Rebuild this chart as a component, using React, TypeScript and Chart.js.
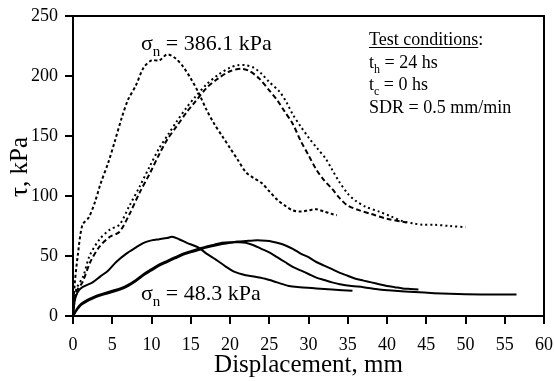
import React, { useEffect, useRef } from "react";
import { Chart, registerables } from "chart.js";

Chart.register(...registerables);

const xTicks = [0, 5, 10, 15, 20, 25, 30, 35, 40, 45, 50, 55, 60];
const yTicks = [0, 50, 100, 150, 200, 250];

// sigma_n = 386.1 kPa, test 1 (early peak)
const highA: [number, number][] = [
  [0, 0], [0.2, 25], [0.6, 50], [1.2, 76], [2, 82], [2.8, 95], [3.5, 110], [4.5, 128], [5.3, 145],
  [6.2, 165], [7, 180], [8, 192], [9, 207], [10, 213], [11, 213], [12, 218], [13, 215], [14, 208],
  [15, 198], [16, 186], [17, 172], [18, 160], [19, 150], [20, 140], [21, 130], [22, 120], [23, 115],
  [24, 111], [25, 104], [26, 97], [27, 92], [28, 88], [29, 87], [30, 88], [31, 89], [32, 87],
  [33, 85], [33.6, 84],
];
// sigma_n = 386.1 kPa, test 2 (dashed, ends ~42.5 mm)
const highB: [number, number][] = [
  [0, 0], [0.4, 20], [1.2, 28], [2.2, 45], [3.4, 58], [4.7, 66], [5.9, 70], [7.2, 85], [8.5, 103],
  [9.8, 119], [11, 135], [12, 147], [13.2, 158], [14.5, 170], [15.5, 178], [17, 190], [18.5, 198],
  [20, 204], [21.5, 206], [22.5, 204], [23.7, 198], [25, 188], [26, 180], [27, 170], [28, 160],
  [29, 146], [30, 134], [31, 122], [32, 113], [33, 106], [34, 98], [35, 92], [36.5, 88], [38, 85],
  [40, 81], [42.5, 78],
];
// sigma_n = 386.1 kPa, test 3 (dotted, ends 50 mm)
const highC: [number, number][] = [
  [0, 0], [0.4, 22], [1.3, 33], [2.1, 50], [3.4, 64], [4.7, 72], [5.9, 76], [7.2, 92], [8.5, 108],
  [9.8, 125], [11, 140], [12.2, 152], [13.2, 162], [14.5, 174], [15.5, 182], [17, 193], [18.5, 201],
  [20, 207], [21, 209], [22, 209], [23, 207], [24, 202], [25, 195], [26.3, 187], [27.2, 178],
  [28, 168], [29, 158], [30.1, 148], [31.2, 139], [32.2, 131], [33, 122], [33.9, 112], [35, 102],
  [36, 96], [37.3, 91], [39, 87], [40.5, 83], [42, 79], [43.5, 77], [44.5, 76], [46, 76], [48, 75],
  [50, 74],
];
// sigma_n = 48.3 kPa, test 1 (early peak)
const lowD: [number, number][] = [
  [0, 0], [0.2, 12], [0.6, 20], [1.2, 24], [2.5, 28], [3.5, 33], [4.5, 38], [5.5, 45], [6.8, 52],
  [8, 57], [9, 61], [10, 63], [11, 64], [12, 65], [12.6, 66], [13.5, 64], [14.5, 61], [16, 57],
  [17, 52], [18.2, 47], [19.5, 41], [20.5, 37], [22, 34], [23, 33], [24.5, 31], [26, 28],
  [27.5, 25], [29, 24], [31, 23], [33, 22], [35.6, 21],
];
// sigma_n = 48.3 kPa, test 2 (ends 56.5 mm)
const lowE: [number, number][] = [
  [0, 0], [0.5, 6], [1, 10], [2, 14], [3, 17], [4, 19], [5, 21], [6, 23], [7, 26], [8, 30], [9, 35],
  [10, 39], [11, 43], [12, 46], [13, 49], [14, 52], [15, 54], [16, 56], [17, 58], [18, 59.5],
  [19, 61], [20, 61.5], [21, 61.5], [22, 61], [23, 59], [24, 56], [25, 53], [26, 49], [27, 45],
  [28, 41], [29, 38], [30, 35], [31, 32], [32, 30], [33, 28], [34, 26.5], [35.5, 25], [37, 24],
  [39, 22], [41, 21], [43.5, 20], [46, 19], [48, 18.5], [52, 18], [56.5, 18],
];
// sigma_n = 48.3 kPa, test 3 (ends 44 mm)
const lowF: [number, number][] = [
  [0, 0], [0.5, 5], [1, 9], [2, 13], [3, 16], [4, 18], [5, 20], [6, 22], [7, 25], [8, 29], [9, 34],
  [10, 38], [11, 42], [12, 45], [13, 48], [14, 51], [15, 53], [16, 55], [17, 57], [18, 58.5],
  [19, 60], [20, 61], [21, 62], [22, 62.5], [23, 63], [24, 63], [25, 62.5], [26, 61], [27, 59],
  [28, 56], [29, 52], [30, 49], [31, 45], [32, 42], [33, 39], [34, 36], [35, 33.5], [36, 31],
  [37, 29.5], [38, 28], [39, 26.5], [40, 25], [41, 24], [42, 23], [43, 22.5], [44, 22],
];

const FONT = "'Liberation Serif', 'Times New Roman', serif";

function toXY(arr: [number, number][]) {
  return arr.map(([x, y]) => ({ x, y }));
}

function drawSub(
  ctx: CanvasRenderingContext2D,
  x: number,
  y: number,
  base: string,
  sub: string,
  rest: string,
  size: number
) {
  ctx.font = `${size}px ${FONT}`;
  ctx.fillText(base, x, y);
  let cx = x + ctx.measureText(base).width;
  const ss = Math.round(size * 0.68);
  ctx.font = `${ss}px ${FONT}`;
  ctx.fillText(sub, cx, y + size * 0.25);
  cx += ctx.measureText(sub).width;
  ctx.font = `${size}px ${FONT}`;
  ctx.fillText(rest, cx, y);
}

const annotPlugin = {
  id: "annot",
  afterDraw(chart: any) {
    const ctx: CanvasRenderingContext2D = chart.ctx;
    const a = chart.chartArea;
    ctx.save();
    ctx.strokeStyle = "#000";
    ctx.lineWidth = 2;
    ctx.strokeRect(a.left, a.top, a.right - a.left, a.bottom - a.top);

    ctx.fillStyle = "#000";
    ctx.textAlign = "left";
    ctx.textBaseline = "alphabetic";
    drawSub(ctx, 141, 50, "σ", "n", " = 386.1 kPa", 22);
    drawSub(ctx, 141, 300, "σ", "n", " = 48.3 kPa", 22);

    const tx = 369;
    const fs = 18;
    ctx.font = `${fs}px ${FONT}`;
    ctx.fillText("Test conditions:", tx, 45);
    const uw = ctx.measureText("Test conditions").width;
    ctx.lineWidth = 1;
    ctx.beginPath();
    ctx.moveTo(tx, 47.5);
    ctx.lineTo(tx + uw, 47.5);
    ctx.stroke();
    drawSub(ctx, tx, 68, "t", "h", " = 24 hs", fs);
    drawSub(ctx, tx, 90, "t", "c", " = 0 hs", fs);
    ctx.font = `${fs}px ${FONT}`;
    ctx.fillText("SDR = 0.5 mm/min", tx, 113);

    ctx.textAlign = "center";
    ctx.font = `25px ${FONT}`;
    ctx.fillText("Displacement, mm", (a.left + a.right) / 2, 372);

    ctx.translate(27, 167);
    ctx.rotate(-Math.PI / 2);
    ctx.font = `25px ${FONT}`;
    ctx.fillText("τ, kPa", 0, 0);
    ctx.restore();
  },
};

export default function App() {
  const ref = useRef<HTMLCanvasElement>(null);
  useEffect(() => {
    document.body.style.margin = "0";
    const canvas = ref.current!;
    const solid = { borderColor: "#000", borderWidth: 2, pointRadius: 0, fill: false, tension: 0.3 };
    const chart = new Chart(canvas, {
      type: "line",
      data: {
        datasets: [
          { label: "A", data: toXY(highA), ...solid, borderDash: [3, 2.5] },
          { label: "B", data: toXY(highB), ...solid, borderDash: [5, 3] },
          { label: "C", data: toXY(highC), ...solid, borderDash: [2, 3] },
          { label: "D", data: toXY(lowD), ...solid },
          { label: "E", data: toXY(lowE), ...solid },
          { label: "F", data: toXY(lowF), ...solid },
        ],
      },
      options: {
        animation: false,
        responsive: false,
        devicePixelRatio: 1,
        layout: { padding: { left: 0, right: 10, top: 16, bottom: 0 } },
        plugins: { legend: { display: false }, tooltip: { enabled: false } },
        scales: {
          x: {
            type: "linear",
            min: 0,
            max: 60,
            afterBuildTicks: (s: any) => {
              s.ticks = xTicks.map((v) => ({ value: v }));
            },
            afterFit: (s: any) => {
              s.height = 65;
              s.paddingLeft = 0;
              s.paddingRight = 0;
            },
            grid: { drawOnChartArea: false, drawTicks: true, tickLength: 8, color: "#000", lineWidth: 2 },
            border: { display: false },
            ticks: { color: "#000", font: { family: FONT, size: 18 }, padding: 10, maxRotation: 0 },
          },
          y: {
            type: "linear",
            min: 0,
            max: 250,
            afterBuildTicks: (s: any) => {
              s.ticks = yTicks.map((v) => ({ value: v }));
            },
            afterFit: (s: any) => {
              s.width = 73;
              s.paddingTop = 0;
              s.paddingBottom = 0;
            },
            grid: { drawOnChartArea: false, drawTicks: true, tickLength: 8, color: "#000", lineWidth: 2 },
            border: { display: false },
            ticks: { color: "#000", font: { family: FONT, size: 18 }, padding: 7 },
          },
        },
      },
      plugins: [annotPlugin],
    } as any);
    return () => chart.destroy();
  }, []);
  return <canvas ref={ref} width={554} height={381} style={{ display: "block" }} />;
}
